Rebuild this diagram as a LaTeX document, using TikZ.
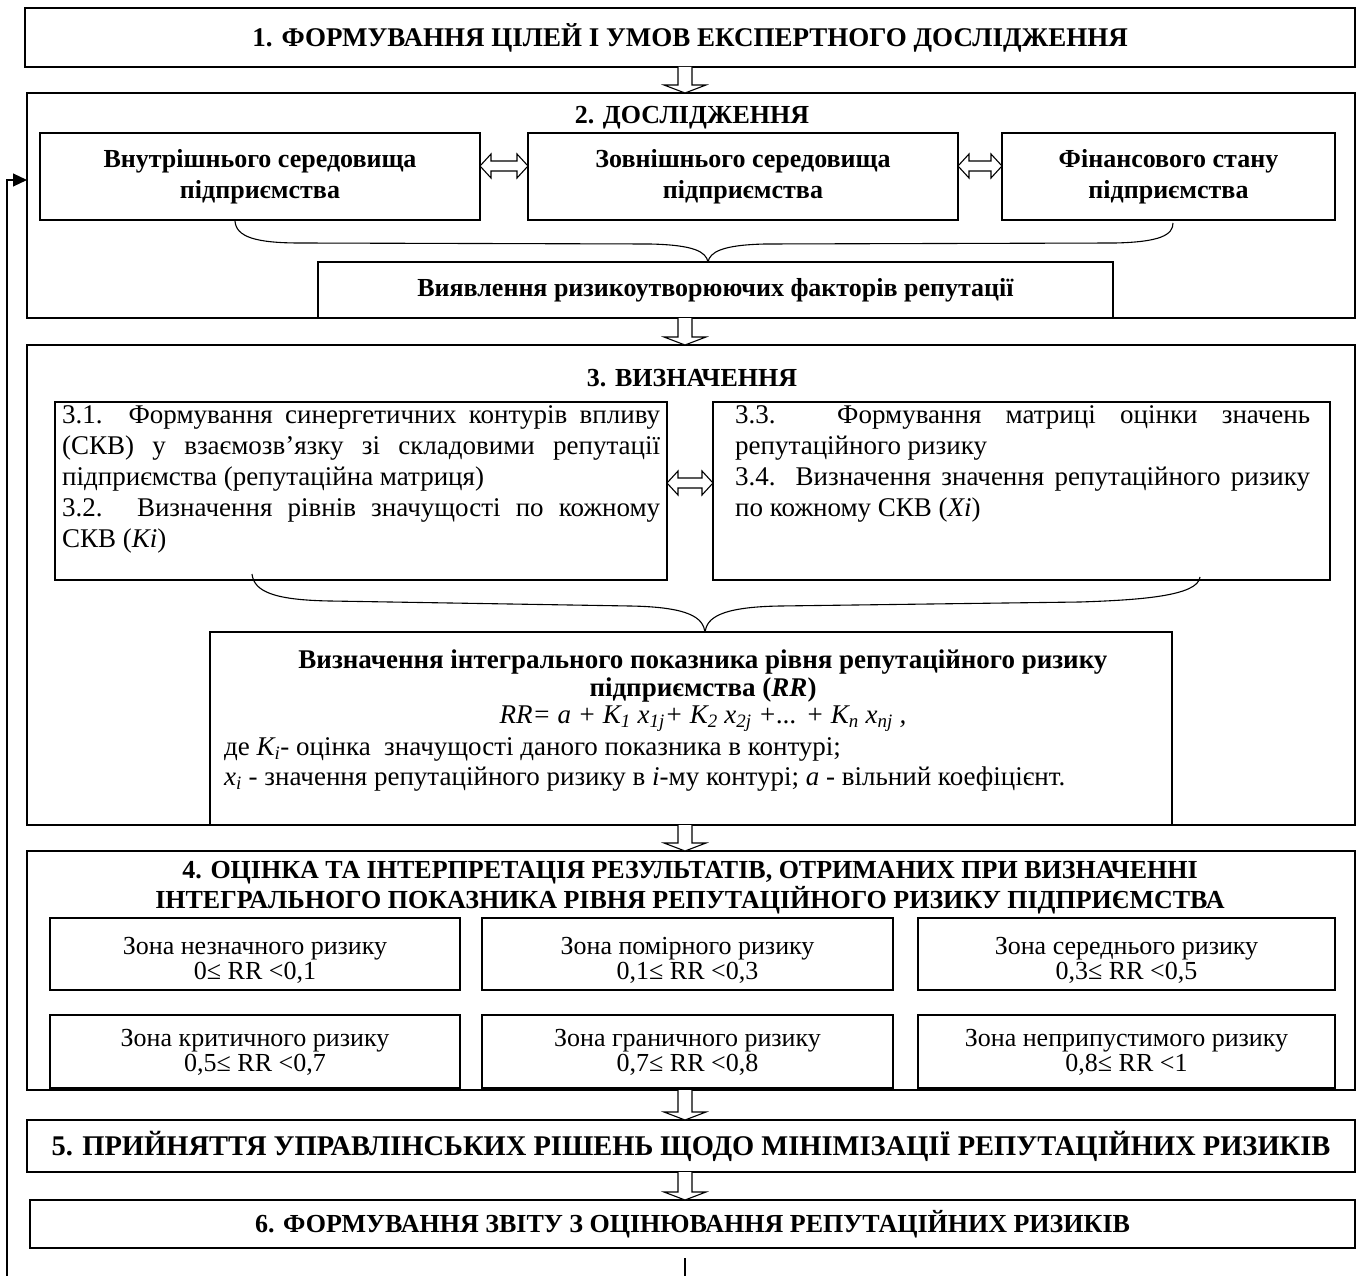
\documentclass[tikz,border=0pt]{standalone}
\usepackage{fontspec}
\setmainfont{Liberation Serif}
\usetikzlibrary{calc,arrows.meta}
\newcommand\hdown[2]{%
 \draw[arr] let \p1=(#1), \p2=(#2) in
 (\x1-7pt,\y1) -- (\x1-7pt,\y2+8pt) -- (\x1-21pt,\y2+8pt) -- (\x1,\y2) -- (\x1+21pt,\y2+8pt) -- (\x1+7pt,\y2+8pt) -- (\x1+7pt,\y1);}
\newcommand\hboth[2]{%
 \draw[arr] let \p1=(#1), \p2=(#2) in
 (\x1,\y1) -- (\x1+11pt,\y1+12pt) -- (\x1+11pt,\y1+5pt) -- (\x2-11pt,\y1+5pt) -- (\x2-11pt,\y1+12pt) -- (\x2,\y1) -- (\x2-11pt,\y1-12pt) -- (\x2-11pt,\y1-5pt) -- (\x1+11pt,\y1-5pt) -- (\x1+11pt,\y1-12pt) -- cycle;}
\newcommand\myjust[2]{\makebox[#1pt][s]{#2}}
\newcommand\myleft[2]{\makebox[#1pt][l]{#2}}
\tikzset{
 box/.style={draw, line width=1.3pt, anchor=north west, inner sep=0pt, outer sep=0pt},
 arr/.style={line width=1.1pt, fill=white, line join=miter},
 brace/.style={line width=1.1pt},
 ttl/.style={font=\bfseries\fontsize{27}{31}\selectfont, align=center, inner sep=0pt},
 sttl/.style={font=\bfseries\fontsize{26}{31}\selectfont, align=center, inner sep=0pt},
 body/.style={font=\fontsize{27}{31}\selectfont, inner sep=0pt, align=left},
 zone/.style={font=\fontsize{26}{25}\selectfont, align=center, inner sep=0pt, anchor=north},
}
\begin{document}
\begin{tikzpicture}[x=1pt,y=-1pt]
\useasboundingbox (0,0) rectangle (1363,1276);
\fill[white] (0,0) rectangle (1363,1276);
\coordinate (ax) at (685,0);
% box 1
\node[box, ttl, minimum width=1330, minimum height=59] (b1) at (25,8) {1. ФОРМУВАННЯ ЦІЛЕЙ І УМОВ ЕКСПЕРТНОГО ДОСЛІДЖЕННЯ};
% box 2
\node[box, minimum width=1328, minimum height=225] (b2) at (27,93) {};
\node[sttl] (t2) at (692,118) {2. ДОСЛІДЖЕННЯ};
\node[box, sttl, minimum width=440, minimum height=87] (bA) at (40,133) {Внутрішнього середовища\\підприємства};
\node[box, sttl, minimum width=430, minimum height=87] (bB) at (528,133) {Зовнішнього середовища\\підприємства};
\node[box, sttl, minimum width=333, minimum height=87] (bC) at (1002,133) {Фінансового стану\\підприємства};
\node[box, sttl, minimum width=795, minimum height=56] (bD) at (318,262) {Виявлення ризикоутворюючих факторів репутації};
\coordinate (ya) at (0,166);
\hboth{bA.east |- ya}{bB.west |- ya}
\hboth{bB.east |- ya}{bC.west |- ya}
\coordinate (brA) at (235,221);
\coordinate (brC) at (1173,223);
\coordinate (br1t) at (708,262);
\draw[brace] (brA) .. controls (236,237) and (256,243) .. (300,243) -- (650,244) .. controls (695,245) and (706,252) .. (br1t);
\draw[brace] (br1t) .. controls (710,252) and (722,245) .. (765,244) -- (1115,243) .. controls (1160,242) and (1173,235) .. (brC);
% box 3
\node[box, minimum width=1328, minimum height=480] (b3) at (27,345) {};
\node[sttl] (t3) at (692,378) {3. ВИЗНАЧЕННЯ};
\node[box, minimum width=612, minimum height=178] (b31) at (55,402) {};
\node[box, minimum width=617, minimum height=178] (b33) at (713,402) {};
\node[body, anchor=north west] (x31) at (62,405)
 {\myjust{598}{3.1. Формування синергетичних контурів впливу}\\
  \myjust{598}{(СКВ) у взаємозв’язку зі складовими репутації}\\
  \myleft{598}{підприємства (репутаційна матриця)}\\
  \myjust{598}{3.2. Визначення рівнів значущості по кожному}\\
  \myleft{598}{СКВ (\textit{Ki})}};
\node[body, anchor=north west] (x33) at (735,405)
 {\myjust{575}{3.3. Формування матриці оцінки значень}\\
  \myleft{575}{репутаційного ризику}\\
  \myjust{575}{3.4. Визначення значення репутаційного ризику}\\
  \myleft{575}{по кожному СКВ (\textit{Xi})}};
\coordinate (yb) at (0,483);
\hboth{b31.east |- yb}{b33.west |- yb}
\node[box, minimum width=962, minimum height=193] (bF) at (210,632) {};
\coordinate (brL) at (252,574);
\coordinate (brR) at (1200,577);
\coordinate (br2t) at (705,632);
\draw[brace] (brL) .. controls (254,592) and (275,600) .. (330,601) -- (630,606) .. controls (690,607) and (703,618) .. (br2t);
\draw[brace] (br2t) .. controls (707,618) and (720,607) .. (780,606) -- (1080,602) .. controls (1140,600) and (1198,596) .. (brR);
\node[inner sep=0pt, anchor=north, align=center, font=\fontsize{27}{27.5}\selectfont] (fT) at (703,650)
 {\textbf{Визначення інтегрального показника рівня репутаційного ризику}\\
  \textbf{підприємства (\textit{RR})}\\
  \textit{RR= a + K\textsubscript{1} x\textsubscript{1j}+ K\textsubscript{2} x\textsubscript{2j} +... + K\textsubscript{n} x\textsubscript{nj} ,}};
\node[inner sep=0pt, anchor=north west, align=left, font=\fontsize{27}{30}\selectfont] (fD) at (224,737)
 {де \textit{K\textsubscript{i}}- оцінка\ \ значущості даного показника в контурі;\\
  \textit{x\textsubscript{i}} - значення репутаційного ризику в \textit{i}-му контурі; \textit{a} - вільний коефіцієнт.};
% box 4
\node[box, minimum width=1328, minimum height=239] (b4) at (27,851) {};
\node[sttl, anchor=north, font=\bfseries\fontsize{26}{30}\selectfont] (t4) at (690,861)
 {4. ОЦІНКА ТА ІНТЕРПРЕТАЦІЯ РЕЗУЛЬТАТІВ, ОТРИМАНИХ ПРИ ВИЗНАЧЕННІ\\
  ІНТЕГРАЛЬНОГО ПОКАЗНИКА РІВНЯ РЕПУТАЦІЙНОГО РИЗИКУ ПІДПРИЄМСТВА};
\node[box, minimum width=410, minimum height=72] (z1) at (50,918) {};
\node[box, minimum width=411, minimum height=72] (z2) at (482,918) {};
\node[box, minimum width=417, minimum height=72] (z3) at (918,918) {};
\node[box, minimum width=410, minimum height=73] (z4) at (50,1015) {};
\node[box, minimum width=411, minimum height=73] (z5) at (482,1015) {};
\node[box, minimum width=417, minimum height=73] (z6) at (918,1015) {};
\node[zone] (zt1) at ($(z1.north)+(0,19)$) {Зона незначного ризику\\0≤ RR <0,1};
\node[zone] (zt2) at ($(z2.north)+(0,19)$) {Зона помірного ризику\\0,1≤ RR <0,3};
\node[zone] (zt3) at ($(z3.north)+(0,19)$) {Зона середнього ризику\\0,3≤ RR <0,5};
\node[zone] (zt4) at ($(z4.north)+(0,14)$) {Зона критичного ризику\\0,5≤ RR <0,7};
\node[zone] (zt5) at ($(z5.north)+(0,14)$) {Зона граничного ризику\\0,7≤ RR <0,8};
\node[zone] (zt6) at ($(z6.north)+(0,14)$) {Зона неприпустимого ризику\\0,8≤ RR <1};
% box 5, 6
\node[box, ttl, font=\bfseries\fontsize{28.5}{31}\selectfont, minimum width=1328, minimum height=52] (b5) at (27,1120) {5. ПРИЙНЯТТЯ УПРАВЛІНСЬКИХ РІШЕНЬ ЩОДО МІНІМІЗАЦІЇ РЕПУТАЦІЙНИХ РИЗИКІВ};
\node[box, ttl, font=\bfseries\fontsize{26}{31}\selectfont, minimum width=1325, minimum height=48] (b6) at (30,1200) {6. ФОРМУВАННЯ ЗВІТУ З ОЦІНЮВАННЯ РЕПУТАЦІЙНИХ РИЗИКІВ};
% arrows
\hdown{b1.south -| ax}{b2.north -| ax}
\hdown{b2.south -| ax}{b3.north -| ax}
\hdown{b3.south -| ax}{b4.north -| ax}
\hdown{b4.south -| ax}{b5.north -| ax}
\hdown{b5.south -| ax}{b6.north -| ax}
% feedback
\coordinate (fbA) at (685,1258);
\coordinate (fbB) at (685,1276);
\coordinate (fbC) at (7,1276);
\coordinate (fbD) at (0,180);
\draw[line width=1.1pt] (fbA) -- (fbB);
\draw[line width=1.1pt, -{Triangle[length=14pt,width=13pt]}] (fbC) |- (b2.west |- fbD);
\end{tikzpicture}
\end{document}
